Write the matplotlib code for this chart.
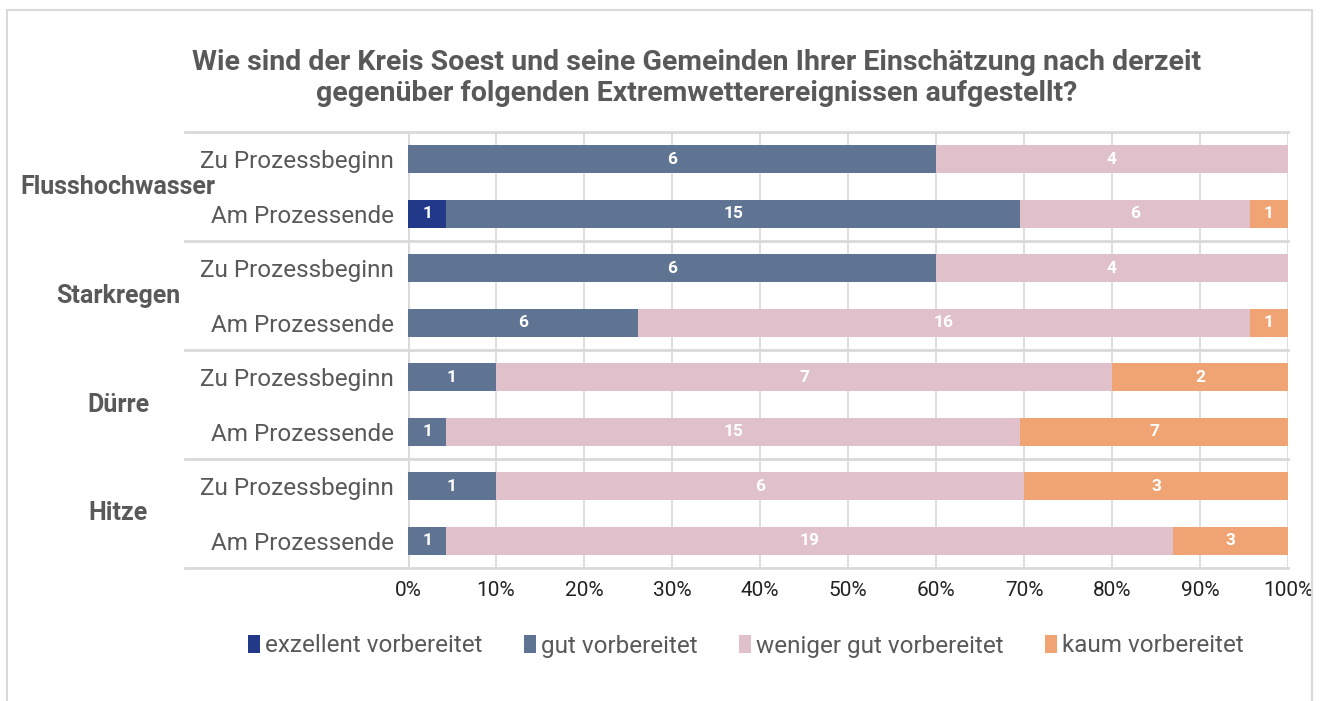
import matplotlib
matplotlib.use('Agg')
import matplotlib.pyplot as plt
from matplotlib.patches import Rectangle
import numpy as np

plt.rcParams['font.family'] = ['Roboto', 'DejaVu Sans']

GROUPS = ['Flusshochwasser', 'Starkregen', 'Dürre', 'Hitze']
STAGES = ['Zu Prozessbeginn', 'Am Prozessende']
SERIES = ['exzellent vorbereitet', 'gut vorbereitet',
          'weniger gut vorbereitet', 'kaum vorbereitet']
COLORS = ['#22398a', '#5f7493', '#e0c1cb', '#f0a474']

# counts per bar, top to bottom
exzellent = [0, 1, 0, 0, 0, 0, 0, 0]
gut = [6, 15, 6, 6, 1, 1, 1, 1]
weniger = [4, 6, 4, 16, 7, 15, 6, 19]
kaum = [0, 1, 0, 1, 2, 7, 3, 3]

TITLE = ('Wie sind der Kreis Soest und seine Gemeinden Ihrer Einschätzung nach derzeit\n'
         'gegenüber folgenden Extremwetterereignissen aufgestellt?')

W, H = 1321, 701
GRID = '#d9d9d9'


def main():
    fig = plt.figure(figsize=(W / 100, H / 100), dpi=100)
    ax = fig.add_axes([408 / W, 1 - 568 / H, 880 / W, 436 / H])

    counts = np.array([exzellent, gut, weniger, kaum], dtype=float)
    totals = counts.sum(axis=0)
    shares = counts / totals
    y = np.arange(len(totals))

    left = np.zeros(len(totals))
    for i in range(len(SERIES)):
        ax.barh(y, shares[i], left=left, height=0.51, color=COLORS[i],
                label=SERIES[i], zorder=3)
        for j in range(len(y)):
            if counts[i, j] > 0:
                ax.text(left[j] + shares[i, j] / 2, y[j], '%d' % counts[i, j],
                        ha='center', va='center', color='white',
                        fontsize=12.5, fontweight='bold', zorder=4)
        left += shares[i]

    ax.set_xlim(0, 1)
    ax.set_ylim(len(y) - 0.5, -0.5)
    ax.set_xticks(np.arange(0, 1.01, 0.1))
    ax.set_xticklabels(['%d%%' % round(v * 100) for v in np.arange(0, 1.01, 0.1)])
    ax.set_yticks(y)
    ax.set_yticklabels(STAGES * len(GROUPS))
    ax.tick_params(axis='x', length=0, pad=9, labelsize=15, labelcolor='#222222')
    ax.tick_params(axis='y', length=0, pad=10, labelsize=17.5, labelcolor='#595959')
    ax.grid(axis='x', color=GRID, linewidth=1.2, zorder=0)
    for s in ax.spines.values():
        s.set_visible(False)
    ax.axvline(0, color=GRID, linewidth=2, zorder=2)

    # group separators extending into the label area
    trans = ax.get_yaxis_transform()
    x0 = (185 - 408) / 880
    for b in np.arange(-0.5, len(y), 2):
        ax.plot([x0, 1], [b, b], transform=trans, color=GRID,
                linewidth=2, clip_on=False, zorder=1)

    for k, g in enumerate(GROUPS):
        ax.text((118 - 408) / 880, 2 * k + 0.5, g, transform=trans,
                ha='center', va='center', fontsize=18, fontweight='bold',
                color='#595959')

    fig.text(697 / W, 1 - 78 / H, TITLE, ha='center', va='center',
             fontsize=20.5, fontweight='bold', color='#595959', linespacing=1.15)

    fig.legend(loc='center', bbox_to_anchor=(746 / W, 1 - 646 / H), ncol=4,
               frameon=False, fontsize=17.5, labelcolor='#595959',
               handlelength=0.5, handleheight=0.7, handletextpad=0.2,
               columnspacing=1.7)

    fig.patches.append(Rectangle((7 / W, -0.1), 1305 / W, 1.1 - 10 / H,
                                 transform=fig.transFigure, fill=False,
                                 edgecolor=GRID, linewidth=1.5))

    fig.savefig('out.png', dpi=100)


if __name__ == '__main__':
    main()
